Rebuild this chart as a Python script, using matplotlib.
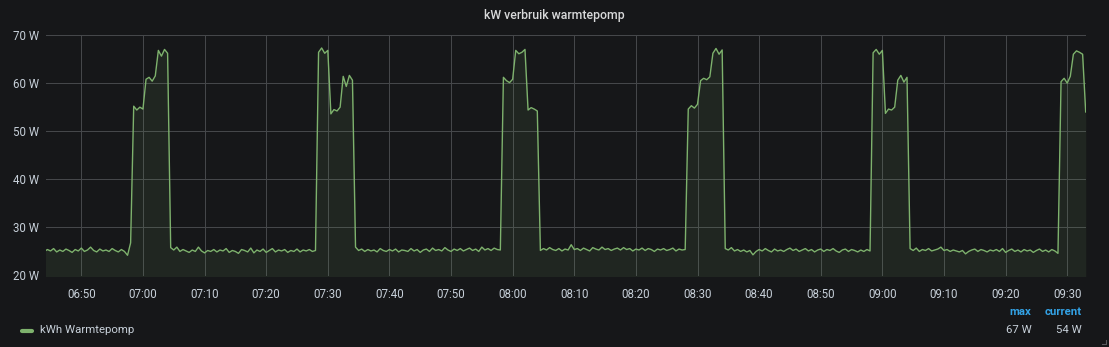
import matplotlib
matplotlib.use("Agg")
import matplotlib.pyplot as plt
import matplotlib.dates as mdates
import pandas as pd

# samples every 30 s
start = "2021-01-01 06:44:00"
step = "30s"

base0 = [25.0, 25.4, 25.1, 25.6, 24.9, 25.3, 25.0, 25.5, 25.2, 24.8, 25.4, 25.1, 25.7, 25.0, 25.3,
         25.9, 25.2, 24.9, 25.5, 25.1, 25.3, 25.0, 25.6, 25.2, 24.9, 25.4, 25.0, 24.2, 26.8]
pulse1 = [55.2, 54.4, 55.0, 54.6, 60.8, 61.2, 60.4, 61.5, 66.8, 65.6, 67.0, 66.2]
base1 = [25.8, 25.3, 25.9, 25.0, 25.4, 25.1, 24.8, 25.3, 25.0, 25.9, 25.1, 24.7, 25.2, 25.0, 25.4, 24.9,
         25.3, 25.1, 25.6, 24.8, 25.2, 25.0, 24.6, 25.4, 25.2, 24.9, 25.7, 24.7, 25.3, 25.0, 25.5, 24.8,
         25.2, 25.6, 24.9, 25.3, 25.1, 25.4, 24.8, 25.2, 25.0, 25.5, 24.9, 25.3, 25.1, 25.4, 25.0, 25.2]
pulse2 = [66.4, 67.3, 66.2, 66.8, 53.6, 54.5, 54.2, 55.0, 61.4, 59.3, 61.6, 60.6]
base2 = [25.9, 25.2, 25.5, 25.0, 25.4, 25.1, 25.3, 24.9, 25.6, 25.2, 25.0, 25.4, 25.1, 25.5, 24.9, 25.3,
         25.2, 25.0, 25.6, 25.1, 25.4, 24.8, 25.3, 25.5, 25.0, 25.7, 25.2, 25.4, 25.1, 25.8, 25.3, 25.0,
         25.5, 25.2, 25.6, 25.1, 25.4, 25.7, 25.2, 25.5, 25.0, 25.9, 25.3, 25.6, 25.2, 25.7, 25.4, 25.3]
pulse3 = [61.2, 60.5, 60.1, 60.8, 66.8, 66.1, 66.4, 67.0, 54.4, 54.9, 54.6, 54.2]
base3 = [25.2, 25.6, 25.3, 25.8, 25.4, 25.2, 25.6, 25.1, 25.5, 25.3, 26.4, 25.4, 25.6, 25.2, 25.7, 25.4,
         25.1, 25.8, 25.5, 25.3, 25.9, 25.4, 25.6, 25.2, 25.5, 25.7, 25.3, 25.8, 25.4, 25.6, 25.1, 25.5,
         25.3, 25.7, 25.2, 25.6, 25.4, 25.0, 25.5, 25.3, 25.6, 25.2, 25.4, 25.7, 25.1, 25.5, 25.3, 25.4]
pulse4 = [54.6, 55.3, 54.8, 55.6, 60.5, 61.0, 60.7, 61.3, 66.2, 67.2, 66.0, 66.9]
base4 = [25.6, 25.3, 25.8, 25.1, 25.4, 25.0, 25.3, 24.9, 25.2, 24.3, 25.0, 25.4, 25.1, 25.6, 25.2, 24.9,
         25.5, 25.1, 25.3, 25.0, 25.4, 25.7, 25.2, 25.5, 25.0, 25.3, 25.6, 25.1, 25.4, 24.9, 25.3, 25.5,
         25.0, 25.4, 25.2, 25.6, 25.1, 24.8, 25.3, 25.5, 25.0, 25.4, 25.2, 24.9, 25.3, 25.0, 25.4, 25.1]
pulse5 = [66.3, 67.0, 66.0, 66.8, 53.7, 54.6, 54.4, 55.0, 60.6, 61.6, 60.2, 61.2]
base5 = [25.6, 25.2, 25.7, 25.0, 25.4, 25.2, 25.6, 25.1, 25.3, 25.5, 25.9, 25.2, 25.4, 25.0, 25.3, 25.1,
         24.9, 25.2, 24.5, 25.0, 25.3, 25.5, 25.0, 25.4, 25.2, 24.9, 25.3, 25.1, 25.4, 25.0, 25.6, 24.8,
         25.2, 25.5, 25.0, 25.3, 24.9, 25.4, 25.1, 25.3, 24.8, 25.2, 25.5, 25.0, 25.3, 24.9, 25.4, 25.1, 24.6]
pulse6 = [60.3, 61.0, 60.0, 61.4, 66.0, 66.7, 66.4, 66.0, 54.0]

series_name = "kWh Warmtepomp"
title = "kW verbruik warmtepomp"

values = (base0 + pulse1 + base1 + pulse2 + base2 + pulse3 + base3 + pulse4
          + base4 + pulse5 + base5 + pulse6)
times = pd.date_range(start, periods=len(values), freq=step)

BG = "#161719"
TXT = "#c7d0d9"
GRID = "#45474a"
GREEN = "#7eb26d"

plt.rcParams['font.family'] = ['Roboto', 'DejaVu Sans']

fig = plt.figure(figsize=(11.09, 3.47), dpi=100, facecolor=BG)
ax = fig.add_axes([45.7 / 1109, 1 - 275.5 / 347, (1085.7 - 45.7) / 1109, (275.5 - 35) / 347])
ax.set_facecolor(BG)

ax.plot(times, values, color=GREEN, lw=1.0, zorder=3)
ax.fill_between(times, values, 0, color=GREEN, alpha=0.1, lw=0, zorder=2)

ax.set_ylim(20, 70)
ax.set_yticks([20, 30, 40, 50, 60, 70])
ax.set_yticklabels([f"{v} W" for v in [20, 30, 40, 50, 60, 70]])
ax.set_xlim(pd.Timestamp("2021-01-01 06:44:13"), times[-1])
ax.xaxis.set_major_locator(mdates.MinuteLocator(byminute=range(0, 60, 10)))
ax.xaxis.set_major_formatter(mdates.DateFormatter("%H:%M"))

ax.grid(True, color=GRID, lw=0.75, zorder=1)
for s in ax.spines.values():
    s.set_visible(False)
ax.tick_params(axis="both", length=0, colors=TXT, labelsize=8.3)
ax.tick_params(axis="x", pad=9)
ax.tick_params(axis="y", pad=5)

fig.text(554 / 1109, 1 - 15 / 347, title, color="#d8d9da", fontsize=8.8,
         fontweight="medium", ha="center", va="center")

# legend row
fig.lines.append(plt.Line2D([22 / 1109, 32 / 1109], [1 - 331 / 347] * 2, color=GREEN,
                            lw=3, solid_capstyle="round", transform=fig.transFigure))
fig.text(40 / 1109, 1 - 330 / 347, series_name, color=TXT, fontsize=8.2, va="center", ha="left")
fig.text(1031.5 / 1109, 1 - 312 / 347, "max", color="#33a2e5", fontsize=8.2,
         fontweight="bold", va="center", ha="right")
fig.text(1081.5 / 1109, 1 - 312 / 347, "current", color="#33a2e5", fontsize=8.2,
         fontweight="bold", va="center", ha="right")
fig.text(1031.5 / 1109, 1 - 330 / 347, f"{round(max(values))} W", color=TXT, fontsize=8.2,
         va="center", ha="right")
fig.text(1081.5 / 1109, 1 - 330 / 347, f"{round(values[-1])} W", color=TXT, fontsize=8.2,
         va="center", ha="right")

# panel resize corner
fig.lines.append(plt.Line2D([1102 / 1109, 1106 / 1109, 1106 / 1109],
                            [1 - 344 / 347, 1 - 344 / 347, 1 - 340 / 347],
                            color="#5a5b5e", lw=0.8, transform=fig.transFigure))

fig.savefig("out.png", dpi=100, facecolor=BG)
